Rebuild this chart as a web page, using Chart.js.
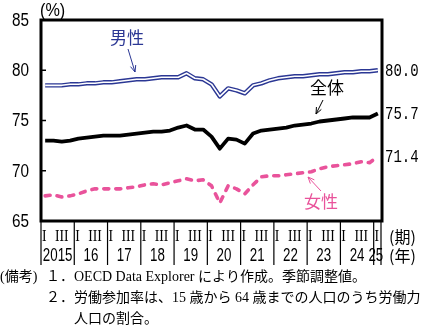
<!DOCTYPE html>
<html>
<head>
<meta charset="utf-8">
<script src="https://cdn.jsdelivr.net/npm/chart.js@4"></script>
<style>
  html, body { margin: 0; padding: 0; background: #fff; }
</style>
</head>
<body>
<canvas id="laborChart" width="425" height="332"></canvas>
<script>
// years shown under the axis, quarter marks (I and III) above them
const years = ['2015', '16', '17', '18', '19', '20', '21', '22', '23', '24', '25'];
const quarterMarks = ['I', '', 'III', ''];
const yTicks = [65, 70, 75, 80, 85];

// labour force participation rate (%), quarterly 2015 Q1 - 2025 Q1
const male = [
    78.5, 78.5, 78.5, 78.6,
    78.6, 78.7, 78.7, 78.8,
    78.8, 78.9, 79.0, 79.1,
    79.1, 79.2, 79.3, 79.3,
    79.3, 79.7, 79.2, 79.1,
    78.6, 77.4, 78.2, 78.0,
    77.7, 78.5, 78.7, 79.0,
    79.2, 79.3, 79.4, 79.4,
    79.5, 79.6, 79.6, 79.7,
    79.8, 79.8, 79.9, 79.9,
    80.0
];
const total = [
    73.0, 73.0, 72.9, 73.0,
    73.2, 73.3, 73.4, 73.5,
    73.5, 73.5, 73.6, 73.7,
    73.8, 73.9, 73.9, 74.0,
    74.3, 74.5, 74.1, 74.1,
    73.4, 72.2, 73.2, 73.1,
    72.7, 73.7, 74.0, 74.1,
    74.2, 74.3, 74.5, 74.6,
    74.7, 74.9, 75.0, 75.1,
    75.2, 75.3, 75.3, 75.3,
    75.7
];
const female = [
    67.5, 67.6, 67.4, 67.5,
    67.7, 68.0, 68.2, 68.2,
    68.2, 68.2, 68.3, 68.4,
    68.6, 68.7, 68.6, 68.8,
    69.0, 69.2, 69.0, 69.1,
    68.5, 66.8, 68.5, 68.2,
    67.7, 68.6, 69.4, 69.5,
    69.5, 69.6, 69.7, 69.8,
    69.9, 70.2, 70.4, 70.5,
    70.6, 70.7, 70.9, 70.8,
    71.4
];

const notes = [
    '１．OECD Data Explorer により作成。季節調整値。',
    '２．労働参加率は、15 歳から 64 歳までの人口のうち労働力',
    '人口の割合。'
];

// one category per quarter (only Q1 for the last year)
const labels = years.flatMap((yr, k) =>
    k < years.length - 1 ? [1, 2, 3, 4].map(q => yr + '-' + q) : [yr + '-1']);

const SANS = "'Liberation Sans', Arial, sans-serif";
const SERIF = "'Liberation Serif', 'DejaVu Serif', 'Noto Sans CJK JP', serif";
const CJK = "'Noto Sans CJK JP', sans-serif";
const BLUE = '#2b3794';
const PINK = '#e9539b';

// text squeezed horizontally (the original uses condensed faces)
function narrowText(ctx, text, x, y, sx) {
    ctx.save();
    ctx.translate(x, y);
    ctx.scale(sx, 1);
    ctx.fillText(text, 0, 0);
    ctx.restore();
}

function arrow(ctx, x1, y1, x2, y2, color) {
    const ang = Math.atan2(y2 - y1, x2 - x1);
    ctx.strokeStyle = color;
    ctx.lineWidth = 1;
    ctx.beginPath();
    ctx.moveTo(x1, y1);
    ctx.lineTo(x2, y2);
    ctx.moveTo(x2 - 7 * Math.cos(ang - 0.4), y2 - 7 * Math.sin(ang - 0.4));
    ctx.lineTo(x2, y2);
    ctx.lineTo(x2 - 7 * Math.cos(ang + 0.4), y2 - 7 * Math.sin(ang + 0.4));
    ctx.stroke();
}

// frame, axis labels, end values, annotations and notes
const decorPlugin = {
    id: 'decor',
    afterDraw(chart) {
        const { ctx, chartArea: a, scales: { x, y } } = chart;
        ctx.save();

        // plot frame
        ctx.strokeStyle = '#000';
        ctx.lineWidth = 3;
        ctx.strokeRect(a.left, a.top, a.right - a.left, a.bottom - a.top);

        // y ticks (inward) and labels
        ctx.fillStyle = '#000';
        ctx.font = '18px ' + SANS;
        ctx.textAlign = 'right';
        ctx.textBaseline = 'middle';
        ctx.lineWidth = 1.5;
        yTicks.forEach(v => {
            const py = y.getPixelForValue(v);
            ctx.beginPath();
            ctx.moveTo(a.left, py);
            ctx.lineTo(a.left + 5, py);
            ctx.stroke();
            narrowText(ctx, String(v), a.left - 12, py + 1, 0.85);
        });
        ctx.textAlign = 'left';
        narrowText(ctx, '(%)', a.left - 1, a.top - 9, 0.9);

        // year separators under the axis
        const half = (x.getPixelForValue(1) - x.getPixelForValue(0)) / 2;
        ctx.lineWidth = 1.2;
        ctx.beginPath();
        years.forEach((yr, k) => {
            const bx = x.getPixelForValue(k * 4) - half;
            ctx.moveTo(bx, a.bottom);
            ctx.lineTo(bx, a.bottom + 44);
        });
        ctx.moveTo(a.right - 1, a.bottom);
        ctx.lineTo(a.right - 1, a.bottom + 44);
        ctx.stroke();

        // quarter marks
        ctx.textAlign = 'center';
        ctx.font = '17px ' + SERIF;
        labels.forEach((lab, i) => {
            const m = quarterMarks[i % 4];
            if (m) narrowText(ctx, m, x.getPixelForValue(i) + (m === 'I' ? -1 : 0), a.bottom + 16, 0.8);
        });

        // year labels centred on each year's span
        ctx.font = '18px ' + SANS;
        years.forEach((yr, k) => {
            const first = k * 4;
            const last = Math.min(first + 3, labels.length - 1);
            const cx = (x.getPixelForValue(first) + x.getPixelForValue(last)) / 2;
            narrowText(ctx, yr, cx - (first === last ? 2 : 0), a.bottom + 35, 0.74);
        });

        ctx.textAlign = 'left';
        ctx.font = '16px ' + CJK;
        ctx.fillText('(期)', a.right + 7, a.bottom + 16);
        ctx.fillText('(年)', a.right + 7, a.bottom + 35);

        // end values
        ctx.font = "18px 'Liberation Mono', 'DejaVu Sans Mono', monospace";
        [male, total, female].forEach(series => {
            const v = series[series.length - 1];
            narrowText(ctx, v.toFixed(1), a.right + 3, y.getPixelForValue(v) + 1, 0.78);
        });

        // series annotations
        ctx.textAlign = 'center';
        ctx.font = '17px ' + CJK;
        ctx.fillStyle = BLUE;
        ctx.fillText('男性', 127, 38);
        arrow(ctx, 128, 49, 135, 72, BLUE);
        ctx.fillStyle = '#000';
        ctx.fillText('全体', 327, 88);
        arrow(ctx, 323, 100, 316, 114, '#000');
        ctx.fillStyle = PINK;
        ctx.fillText('女性', 321, 202);
        arrow(ctx, 321, 191, 308, 177, PINK);

        // notes
        ctx.fillStyle = '#000';
        ctx.textAlign = 'left';
        ctx.font = '14px ' + SERIF;
        ctx.fillText('(備考)', 0, 277);
        ctx.fillText(notes[0], 46, 277);
        ctx.fillText(notes[1], 46, 298);
        ctx.fillText(notes[2], 74, 319);

        ctx.restore();
    }
};

new Chart(document.getElementById('laborChart').getContext('2d'), {
    type: 'line',
    data: {
        labels: labels,
        datasets: [
            { label: '男性 core', data: male, borderColor: '#fff', borderWidth: 1.6, pointRadius: 0, order: 0 },
            { label: '男性', data: male, borderColor: BLUE, borderWidth: 4.4, pointRadius: 0, order: 1 },
            { label: '全体', data: total, borderColor: '#000', borderWidth: 3.8, pointRadius: 0, order: 2 },
            { label: '女性', data: female, borderColor: PINK, borderWidth: 3.6, borderDash: [5, 7],
              borderCapStyle: 'round', pointRadius: 0, order: 3 }
        ]
    },
    options: {
        responsive: false,
        animation: false,
        devicePixelRatio: 1,
        layout: { padding: { left: 41, right: 43, top: 20, bottom: 111 } },
        elements: { line: { tension: 0, borderJoinStyle: 'round' } },
        scales: {
            x: { type: 'category', offset: true, display: false },
            y: { min: 65, max: 85, display: false }
        },
        plugins: { legend: { display: false }, tooltip: { enabled: false } }
    },
    plugins: [decorPlugin]
});
</script>
</body>
</html>
